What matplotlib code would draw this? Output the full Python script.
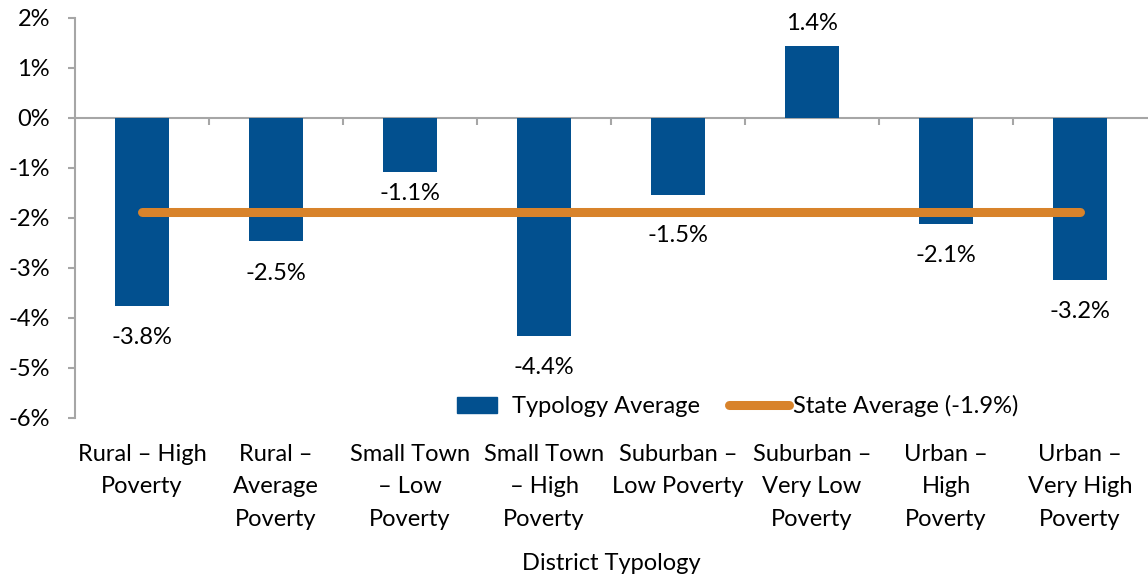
import matplotlib
matplotlib.use("Agg")
import matplotlib.pyplot as plt
import matplotlib.transforms as mtransforms
from matplotlib.lines import Line2D
from matplotlib.patches import Patch
from matplotlib.legend_handler import HandlerLine2D
import numpy as np

categories = ["Rural – High\nPoverty", "Rural –\nAverage\nPoverty", "Small Town\n– Low\nPoverty",
              "Small Town\n– High\nPoverty", "Suburban –\nLow Poverty", "Suburban –\nVery Low\nPoverty",
              "Urban –\nHigh\nPoverty", "Urban –\nVery High\nPoverty"]
typology_avg = [-3.76, -2.46, -1.08, -4.36, -1.54, 1.44, -2.12, -3.24]
state_avg = -1.87
state_label = "-1.9%"

plt.rcParams['font.family'] = ['Lato', 'DejaVu Sans']
W, H = 1148, 575
fig = plt.figure(figsize=(W / 100, H / 100), dpi=100)
ax = fig.add_axes([75 / W, (575 - 418) / H, (1147 - 75) / W, 400 / H])

blue = "#02508F"
orange = "#D8832B"
gray = "#A6A6A6"
fs = 17

x = list(range(len(categories)))
ax.bar(x, typology_avg, width=0.4, color=blue, zorder=2)
ax.plot([x[0], x[-1]], [state_avg, state_avg], color=orange, lw=6.5, solid_capstyle='round', zorder=3)

# label offsets in pixels (label centre relative to bar end)
special = {2: -22, 4: -40}
for i, (xi, v) in enumerate(zip(x, typology_avg)):
    if v >= 0:
        off = 22
    else:
        off = special.get(i, -32)
    ax.annotate(f"{v:.1f}%", (xi, v), xytext=(0, off * 0.72), textcoords='offset points',
                ha='center', va='center', fontsize=fs)

ax.set_xlim(-0.5, len(categories) - 0.5)
ax.set_ylim(-6, 2)
ax.set_yticks(range(-6, 3))
ax.set_yticklabels([f"{t}%" for t in range(-6, 3)], fontsize=fs)

for s in ['top', 'right']:
    ax.spines[s].set_visible(False)
ax.spines['left'].set_color(gray)
ax.spines['left'].set_linewidth(1.5)
ax.spines['bottom'].set_position(('data', 0))
ax.spines['bottom'].set_color(gray)
ax.spines['bottom'].set_linewidth(1.5)
ax.spines['bottom'].set_zorder(1)
ax.set_xticks([i + 0.5 for i in range(len(categories) - 1)])
ax.set_xticklabels([])
ax.tick_params(axis='x', direction='out', length=5, width=1.5, color=gray)
ax.tick_params(axis='y', direction='out', length=5, width=1.5, color=gray, pad=13)

trans = mtransforms.blended_transform_factory(ax.transData, ax.transAxes)
for xi, c in zip(x, categories):
    ax.text(xi, -0.064, c, transform=trans, ha='center', va='top', fontsize=fs, linespacing=1.69)
ax.text(0.5, -0.338, "District Typology", transform=ax.transAxes, ha='center', va='top', fontsize=fs)


class LongLineHandler(HandlerLine2D):
    def get_xdata(self, legend, xdescent, ydescent, width, height, fontsize):
        xd = np.array([-xdescent - 6.5, -xdescent + width + 8.0])
        return xd, xd


handles = [Patch(color=blue), Line2D([0], [0], color=orange, lw=6.5, solid_capstyle='round')]
ax.legend(handles, ["Typology Average", "State Average (-1.9%)"], ncol=2, frameon=False,
          loc='center', bbox_to_anchor=(0.618, 0.03), fontsize=fs, handlelength=1.7,
          handletextpad=0.64, columnspacing=1.6,
          handler_map={handles[1]: LongLineHandler()})

fig.savefig("out.png", dpi=100)
